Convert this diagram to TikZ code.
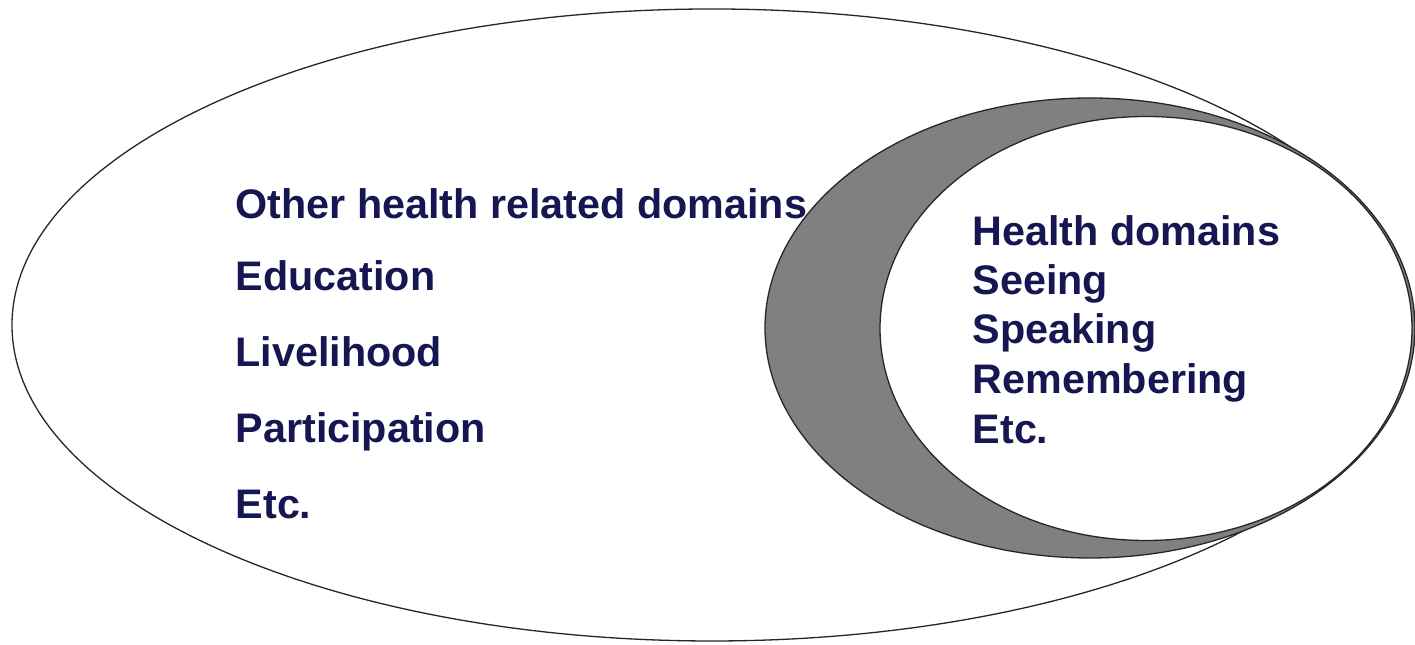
\documentclass[tikz,border=0pt]{standalone}
\usepackage{fontspec}
\setmainfont{Liberation Sans}
\usepackage{tikz}
\usetikzlibrary{positioning}
\definecolor{domainblue}{RGB}{22,22,82}
\definecolor{crescentgray}{RGB}{128,128,128}
\tikzset{
	domaintext/.style={anchor=base west, inner sep=0pt, text=domainblue, font=\fontsize{11.75}{14}\selectfont\bfseries},
	rim/.style={line width=0.13mm, color=black!85},
}

\begin{document}
\begin{tikzpicture}
		%%%%% START %%%%%
		\useasboundingbox (0, 0) rectangle (14.15, 6.45);
		
		\draw[rim] (7.12, 3.20) ellipse (7.00 and 3.16);
		\draw[rim, fill=crescentgray] (10.90, 3.17) ellipse (3.25 and 2.30);
		\draw[rim, fill=white] (11.46, 3.165) ellipse (2.66 and 2.12);
		
		\node[domaintext] (other) at (2.35, 4.26) {Other health related domains};
		\node[domaintext] (educ) at (2.35, 3.54) {Education};
		\node[domaintext] (live) at (2.35, 2.78) {Livelihood};
		\node[domaintext] (part) at (2.35, 2.02) {Participation};
		\node[domaintext] (etcA) at (2.35, 1.26) {Etc.};
		
		\node[domaintext] (health) at (9.72, 3.99) {Health domains};
		\node[domaintext] (see) at (9.72, 3.50) {Seeing};
		\node[domaintext] (speak) at (9.72, 3.01) {Speaking};
		\node[domaintext] (remem) at (9.72, 2.51) {Remembering};
		\node[domaintext] (etcB) at (9.72, 2.01) {Etc.};
		
		%%%%% END %%%%%
	\end{tikzpicture}
\end{document}
